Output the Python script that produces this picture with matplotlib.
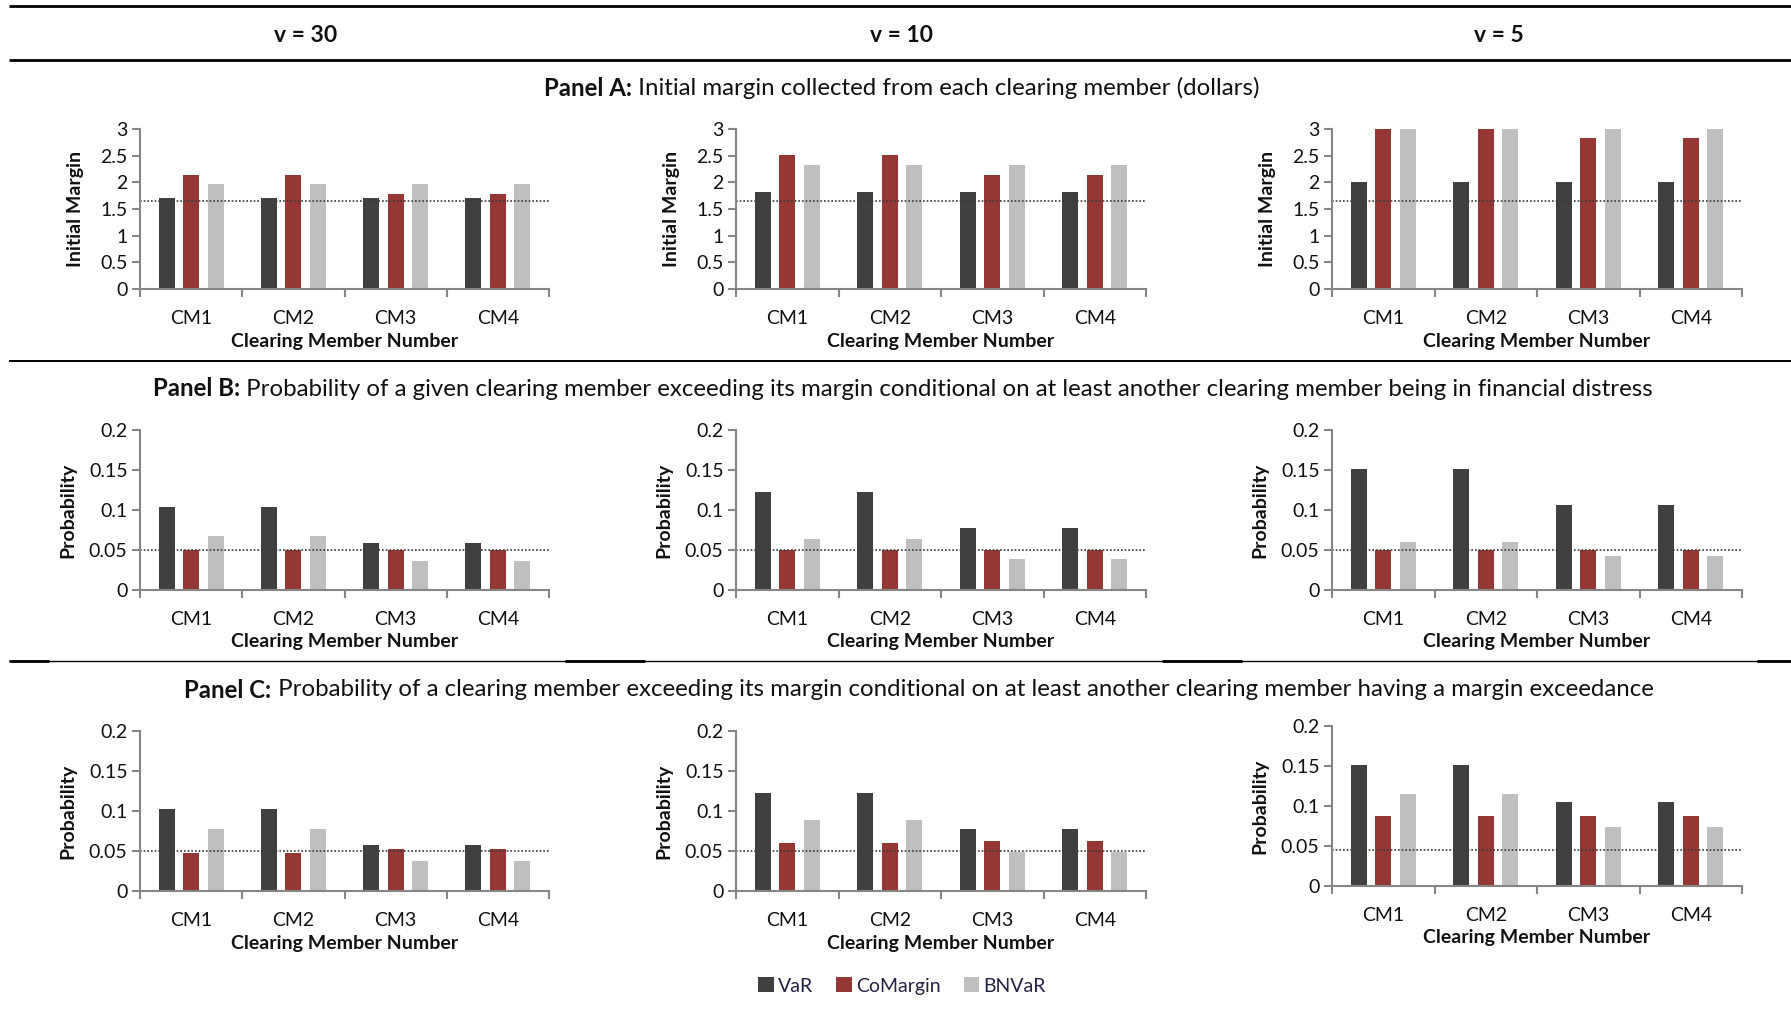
import matplotlib
matplotlib.use("Agg")
import matplotlib.pyplot as plt
from matplotlib.patches import Patch
from matplotlib.lines import Line2D
import numpy as np

plt.rcParams['font.family'] = ['Lato', 'DejaVu Sans']

# ---------------------------------------------------------------- data
members = ["CM1", "CM2", "CM3", "CM4"]
dof_headers = ["v = 30", "v = 10", "v = 5"]
series_names = ["VaR", "CoMargin", "BNVaR"]

# Panel A: initial margin (dollars), one row per degrees of freedom (30, 10, 5)
margin_var = [[1.70, 1.70, 1.70, 1.70],
              [1.81, 1.81, 1.81, 1.81],
              [2.01, 2.01, 2.01, 2.01]]
margin_comargin = [[2.13, 2.13, 1.79, 1.79],
                   [2.51, 2.51, 2.13, 2.13],
                   [3.00, 3.00, 2.84, 2.84]]
margin_bnvar = [[1.96, 1.96, 1.96, 1.96],
                [2.32, 2.32, 2.32, 2.32],
                [3.00, 3.00, 3.00, 3.00]]
margin_ref = [1.65, 1.65, 1.65]

# Panel B: exceedance probability given another member in distress
distress_var = [[0.104, 0.104, 0.059, 0.059],
                [0.123, 0.123, 0.078, 0.078],
                [0.151, 0.151, 0.106, 0.106]]
distress_comargin = [[0.050, 0.050, 0.050, 0.050],
                     [0.050, 0.050, 0.050, 0.050],
                     [0.050, 0.050, 0.050, 0.050]]
distress_bnvar = [[0.0675, 0.0675, 0.036, 0.036],
                  [0.064, 0.064, 0.039, 0.039],
                  [0.060, 0.060, 0.042, 0.042]]
distress_ref = [0.05, 0.05, 0.05]

# Panel C: exceedance probability given another member's margin exceedance
exceed_var = [[0.103, 0.103, 0.058, 0.058],
              [0.1225, 0.1225, 0.0775, 0.0775],
              [0.151, 0.151, 0.105, 0.105]]
exceed_comargin = [[0.047, 0.047, 0.052, 0.052],
                   [0.060, 0.060, 0.062, 0.062],
                   [0.088, 0.088, 0.087, 0.087]]
exceed_bnvar = [[0.078, 0.078, 0.038, 0.038],
                [0.089, 0.089, 0.049, 0.049],
                [0.115, 0.115, 0.074, 0.074]]
exceed_ref = [0.05, 0.05, 0.045]

margin_ticks = [0, 0.5, 1, 1.5, 2, 2.5, 3]
margin_ticklabels = ["0", "0.5", "1", "1.5", "2", "2.5", "3"]
prob_ticks = [0, 0.05, 0.1, 0.15, 0.2]
prob_ticklabels = ["0", "0.05", "0.1", "0.15", "0.2"]

panel_titles = [
    ("Panel A:", " Initial margin collected from each clearing member (dollars)"),
    ("Panel B:", " Probability of a given clearing member exceeding its margin conditional on at least another clearing member being in financial distress"),
    ("Panel C:", " Probability of a clearing member exceeding its margin conditional on at least another clearing member having a margin exceedance"),
]

colors = ["#404040", "#953735", "#bfbfbf"]
spine_color = "#868686"

# ---------------------------------------------------------------- layout (pixels)
W, H = 1791, 1011
fig = plt.figure(figsize=(W / 100, H / 100), dpi=100)


def fx(px):
    return px / W


def fy(py):
    return 1 - py / H


col_left = [140, 736, 1332]
col_right = [549, 1146, 1742]
row_top = [[129, 129, 129], [430, 430, 430], [731, 731, 726]]
row_bottom = [[289, 289, 289], [590, 590, 590], [891, 891, 886]]

panels = [
    (margin_var, margin_comargin, margin_bnvar, margin_ref, (0, 3),
     margin_ticks, margin_ticklabels, "Initial Margin", 65),
    (distress_var, distress_comargin, distress_bnvar, distress_ref, (0, 0.2),
     prob_ticks, prob_ticklabels, "Probability", 72),
    (exceed_var, exceed_comargin, exceed_bnvar, exceed_ref, (0, 0.2),
     prob_ticks, prob_ticklabels, "Probability", 72),
]

x = np.arange(len(members))
offsets = [-0.24, 0.0, 0.24]
bar_w = 0.157

for r, (s_var, s_co, s_bn, ref, ylim, yt, ytl, ylab, ylab_off) in enumerate(panels):
    for c in range(3):
        l, rr = col_left[c], col_right[c]
        t, b = row_top[r][c], row_bottom[r][c]
        ax = fig.add_axes([fx(l), fy(b), (rr - l) / W, (b - t) / H])
        for k, vals in enumerate([s_var[c], s_co[c], s_bn[c]]):
            ax.bar(x + offsets[k], vals, width=bar_w, color=colors[k],
                   edgecolor="none", zorder=2)
        ax.axhline(ref[c], color="#3a3a3a", linestyle=(0, (1.0, 1.2)),
                   linewidth=1.2, zorder=3)
        ax.set_xlim(-0.5, len(members) - 0.5)
        ax.set_ylim(*ylim)
        ax.set_yticks(yt)
        ax.set_yticklabels(ytl)
        ax.set_xticks(x)
        ax.set_xticklabels(members)
        ax.set_xticks(np.arange(-0.5, len(members)), minor=True)
        ax.tick_params(axis="x", which="major", length=0, pad=15,
                       labelsize=14, labelcolor="#111111")
        ax.tick_params(axis="x", which="minor", length=6, width=1.5,
                       color=spine_color, direction="out")
        ax.tick_params(axis="y", length=6, width=1.5, color=spine_color,
                       direction="out", pad=3, labelsize=14,
                       labelcolor="#111111")
        for side in ("top", "right"):
            ax.spines[side].set_visible(False)
        for side in ("left", "bottom"):
            ax.spines[side].set_color(spine_color)
            ax.spines[side].set_linewidth(1.5)
        ax.spines["left"].set_zorder(4)
        ax.set_facecolor("none")
        ax.set_xlabel("Clearing Member Number", fontsize=14,
                      fontweight="bold", va="center", color="#111111")
        ax.xaxis.set_label_coords(0.5, -52 / (b - t))
        ax.set_ylabel(ylab, fontsize=14, fontweight="bold", va="center",
                      color="#111111")
        ax.yaxis.set_label_coords(-ylab_off / (rr - l), 0.5)

# ---------------------------------------------------------------- headers and rules
header_x = [306, 902, 1499]
for hx, txt in zip(header_x, dof_headers):
    fig.text(fx(hx), fy(35), txt, ha="center", va="center", fontsize=16.5,
             fontweight="bold", color="#111111")


def hrule(y, x0, x1, lw):
    fig.add_artist(Line2D([fx(x0), fx(x1)], [fy(y), fy(y)],
                          transform=fig.transFigure, color="black",
                          linewidth=lw, solid_capstyle="butt"))


hrule(6, 9, W, 2.0)
hrule(60, 9, W, 2.0)
hrule(361, 9, W, 1.4)
hrule(661, 9, W, 1.0)
for x0, x1 in [(9, 49), (565, 645), (1162, 1242), (1757, W)]:
    hrule(661, x0, x1, 2.0)

# panel titles: bold lead-in followed by regular text, centred as one line
title_y = [88, 389, 690]
title_cx = [902, 903, 919]
renderer = fig.canvas.get_renderer()
for (bold, rest), ty, cx in zip(panel_titles, title_y, title_cx):
    t1 = fig.text(0, fy(ty), bold, fontsize=17.3, fontweight="bold",
                  va="center", ha="left", color="#111111")
    t2 = fig.text(0, fy(ty), rest, fontsize=17.3, va="center", ha="left",
                  color="#111111")
    w1 = t1.get_window_extent(renderer).width
    w2 = t2.get_window_extent(renderer).width
    left = cx - (w1 + w2) / 2
    t1.set_x(fx(left))
    t2.set_x(fx(left + w1))

# ---------------------------------------------------------------- legend
handles = [Patch(facecolor=c, edgecolor="none", label=n)
           for c, n in zip(colors, series_names)]
fig.legend(handles=handles, loc="center", bbox_to_anchor=(fx(902), fy(986)),
           ncol=3, frameon=False, fontsize=14, handlelength=0.8,
           handleheight=0.8, handletextpad=0.2, columnspacing=1.2,
           labelcolor="#222244")

fig.savefig("out.png", dpi=100)
